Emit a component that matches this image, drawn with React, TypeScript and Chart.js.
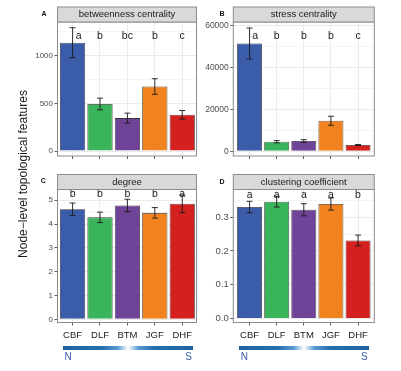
import React, { useEffect, useRef } from 'react';
import { Chart, registerables } from 'chart.js';

Chart.register(...registerables);

// ---------- data ----------
const categories = ['CBF', 'DLF', 'BTM', 'JGF', 'DHF'];
const barColors = ['#3B5CA8', '#3AB45A', '#6E4398', '#F0831F', '#D52020'];

const betweennessMean = [1135, 493, 345, 676, 380];
const betweennessErr = [157, 61, 52, 82, 45];
const betweennessLetters = ['a', 'b', 'bc', 'b', 'c'];
const betweennessLetterY = 1205;
const betweennessTicks = [0, 500, 1000];
const betweennessTickLabels = ['0', '500', '1000'];
const betweennessMinor = [250, 750, 1250];

const stressMean = [51500, 4600, 4900, 14600, 3000];
const stressErr = [7400, 550, 650, 2150, 250];
const stressLetters = ['a', 'b', 'b', 'b', 'c'];
const stressLetterY = 55090;
const stressTicks = [0, 20000, 40000, 60000];
const stressTickLabels = ['0', '20000', '40000', '60000'];
const stressMinor = [10000, 30000, 50000];

const degreeMean = [4.62, 4.28, 4.78, 4.47, 4.85];
const degreeErr = [0.26, 0.22, 0.26, 0.22, 0.37];
const degreeLetters = ['b', 'b', 'b', 'b', 'a'];
const degreeLetterY = 5.25;
const degreeTicks = [0, 1, 2, 3, 4, 5];
const degreeTickLabels = ['0', '1', '2', '3', '4', '5'];
const degreeMinor = [0.5, 1.5, 2.5, 3.5, 4.5];

const clusteringMean = [0.33, 0.346, 0.322, 0.339, 0.231];
const clusteringErr = [0.017, 0.016, 0.018, 0.018, 0.016];
const clusteringLetters = ['a', 'a', 'a', 'a', 'b'];
const clusteringLetterY = 0.364;
const clusteringTicks = [0, 0.1, 0.2, 0.3];
const clusteringTickLabels = ['0.0', '0.1', '0.2', '0.3'];
const clusteringMinor = [0.05, 0.15, 0.25, 0.35];

const yTitle = 'Node\u2212level topological features';

// ---------- layout / style ----------
const FONT = "'Liberation Sans', Arial, Helvetica, sans-serif";
const STRIP_H = 15;

interface PanelCfg {
  tag: string;
  title: string;
  means: number[];
  errs: number[];
  letters: string[];
  letterY: number;
  nudge: number[];
  ticks: number[];
  tickLabels: string[];
  minor: number[];
  yMin: number;
  yMax: number;
  xMin: number;
  xMax: number;
  showX: boolean;
  yFont: number;
  box: { left: number; top: number; width: number; height: number };
  area: { left: number; top: number; right: number; bottom: number };
}

const panels: PanelCfg[] = [
  {
    tag: 'A', title: 'betweenness centrality',
    means: betweennessMean, errs: betweennessErr, letters: betweennessLetters, letterY: betweennessLetterY,
    nudge: [0.22, 0, 0, 0, 0],
    ticks: betweennessTicks, tickLabels: betweennessTickLabels, minor: betweennessMinor,
    yMin: -52, yMax: 1352, xMin: -0.55, xMax: 4.52, showX: false, yFont: 8,
    box: { left: 0, top: 0, width: 200, height: 172 },
    area: { left: 57.5, top: 22, right: 196.5, bottom: 156 },
  },
  {
    tag: 'B', title: 'stress centrality',
    means: stressMean, errs: stressErr, letters: stressLetters, letterY: stressLetterY,
    nudge: [0.21, 0, 0, 0, 0],
    ticks: stressTicks, tickLabels: stressTickLabels, minor: stressMinor,
    yMin: -2245, yMax: 61775, xMin: -0.6, xMax: 4.6, showX: false, yFont: 8.5,
    box: { left: 200, top: 0, width: 201, height: 172 },
    area: { left: 233.3, top: 22, right: 374.3, bottom: 156 },
  },
  {
    tag: 'C', title: 'degree',
    means: degreeMean, errs: degreeErr, letters: degreeLetters, letterY: degreeLetterY,
    nudge: [0, 0, 0, 0, 0],
    ticks: degreeTicks, tickLabels: degreeTickLabels, minor: degreeMinor,
    yMin: -0.134, yMax: 5.45, xMin: -0.55, xMax: 4.52, showX: true, yFont: 8,
    box: { left: 0, top: 172, width: 200, height: 199 },
    area: { left: 57.5, top: 189.5, right: 196.5, bottom: 322.5 },
  },
  {
    tag: 'D', title: 'clustering coefficient',
    means: clusteringMean, errs: clusteringErr, letters: clusteringLetters, letterY: clusteringLetterY,
    nudge: [0, 0, 0, 0, 0],
    ticks: clusteringTicks, tickLabels: clusteringTickLabels, minor: clusteringMinor,
    yMin: -0.012, yMax: 0.382, xMin: -0.6, xMax: 4.6, showX: true, yFont: 9.5,
    box: { left: 200, top: 172, width: 201, height: 199 },
    area: { left: 233.3, top: 189.5, right: 374.3, bottom: 322.5 },
  },
];

function facetPlugin(p: PanelCfg) {
  return {
    id: 'facet' + p.tag,
    afterDatasetsDraw(chart: any) {
      const { ctx } = chart;
      const x = chart.scales.x;
      const y = chart.scales.y;
      ctx.save();
      ctx.strokeStyle = '#1a1a1a';
      ctx.lineWidth = 0.9;
      p.means.forEach((m, i) => {
        const px = x.getPixelForValue(i);
        const yt = y.getPixelForValue(m + p.errs[i]);
        const yb = y.getPixelForValue(m - p.errs[i]);
        ctx.beginPath();
        ctx.moveTo(px, yt);
        ctx.lineTo(px, yb);
        ctx.moveTo(px - 3, yt);
        ctx.lineTo(px + 3, yt);
        ctx.moveTo(px - 3, yb);
        ctx.lineTo(px + 3, yb);
        ctx.stroke();
      });
      ctx.fillStyle = '#1a1a1a';
      ctx.font = `10.5px ${FONT}`;
      ctx.textAlign = 'center';
      ctx.textBaseline = 'middle';
      p.letters.forEach((l, i) => {
        ctx.fillText(l, x.getPixelForValue(i + p.nudge[i]), y.getPixelForValue(p.letterY));
      });
      ctx.restore();
    },
    afterDraw(chart: any) {
      const { ctx, chartArea: a } = chart;
      ctx.save();
      ctx.strokeStyle = '#8c8c8c';
      ctx.lineWidth = 1;
      ctx.strokeRect(a.left, a.top, a.right - a.left, a.bottom - a.top);
      ctx.fillStyle = '#D9D9D9';
      ctx.fillRect(a.left, a.top - STRIP_H, a.right - a.left, STRIP_H);
      ctx.strokeRect(a.left, a.top - STRIP_H, a.right - a.left, STRIP_H);
      ctx.fillStyle = '#1a1a1a';
      ctx.font = `9.5px ${FONT}`;
      ctx.textAlign = 'center';
      ctx.textBaseline = 'middle';
      ctx.fillText(p.title, (a.left + a.right) / 2, a.top - STRIP_H / 2);
      ctx.restore();
    },
  };
}

function buildConfig(p: PanelCfg): any {
  const pad = {
    left: 0,
    top: p.area.top - p.box.top,
    right: p.box.left + p.box.width - p.area.right,
    bottom: 0,
  };
  const yW = p.area.left - p.box.left;
  const xH = p.box.top + p.box.height - p.area.bottom;
  const yVals = [...p.ticks, ...p.minor].sort((a, b) => a - b);
  const isMajor = (v: any) => p.ticks.includes(v);
  return {
    type: 'bar',
    data: {
      datasets: [
        {
          data: categories.map((c, i) => ({ x: i, y: p.means[i] })),
          backgroundColor: barColors,
          borderColor: '#333333',
          borderWidth: 0.8,
          barPercentage: 0.92,
          categoryPercentage: 1,
        },
      ],
    },
    options: {
      responsive: false,
      animation: false,
      devicePixelRatio: 1,
      layout: { padding: pad },
      plugins: { legend: { display: false }, tooltip: { enabled: false } },
      scales: {
        x: {
          type: 'linear',
          min: p.xMin,
          max: p.xMax,
          bounds: 'data',
          offset: false,
          afterBuildTicks: (s: any) => {
            s.ticks = categories.map((c, i) => ({ value: i }));
          },
          afterFit: (s: any) => {
            s.height = xH;
          },
          ticks: {
            display: p.showX,
            autoSkip: false,
            maxRotation: 0,
            callback: (v: any) => categories[v] ?? '',
            font: { family: FONT, size: 9.5 },
            color: '#1a1a1a',
            padding: 4,
          },
          grid: {
            color: '#EBEBEB',
            lineWidth: 1,
            offset: false,
            drawTicks: true,
            tickLength: 3,
            tickColor: '#333333',
            tickWidth: 0.8,
          },
          border: { display: false },
        },
        y: {
          type: 'linear',
          min: p.yMin,
          max: p.yMax,
          bounds: 'data',
          afterBuildTicks: (s: any) => {
            s.ticks = yVals.map((v) => ({ value: v }));
          },
          afterFit: (s: any) => {
            s.width = yW;
          },
          ticks: {
            autoSkip: false,
            callback: (v: any) => {
              const k = p.ticks.indexOf(v);
              return k >= 0 ? p.tickLabels[k] : '';
            },
            font: { family: FONT, size: p.yFont },
            color: '#4d4d4d',
            padding: 1.5,
          },
          grid: {
            color: '#EBEBEB',
            lineWidth: (ctx: any) => (isMajor(ctx.tick?.value) ? 1 : 0.5),
            tickLength: 3,
            tickColor: (ctx: any) => (isMajor(ctx.tick?.value) ? '#333333' : 'rgba(0,0,0,0)'),
            tickWidth: 0.8,
          },
          border: { display: false },
        },
      },
    },
    plugins: [facetPlugin(p)],
  };
}

function Panel({ cfg }: { cfg: PanelCfg }) {
  const ref = useRef<HTMLCanvasElement>(null);
  useEffect(() => {
    const chart = new Chart(ref.current as HTMLCanvasElement, buildConfig(cfg));
    return () => chart.destroy();
  }, [cfg]);
  return (
    <canvas
      ref={ref}
      width={cfg.box.width}
      height={cfg.box.height}
      style={{
        position: 'absolute',
        left: cfg.box.left,
        top: cfg.box.top,
        width: cfg.box.width,
        height: cfg.box.height,
      }}
    />
  );
}

const gradient =
  'linear-gradient(to right, #1f62a0 0%, #2670ae 30%, #5a9bd0 42%, #ffffff 50%, #5a9bd0 58%, #2670ae 70%, #1f62a0 100%)';

const centered = (left: number, top: number): React.CSSProperties => ({
  position: 'absolute',
  left,
  top,
  transform: 'translate(-50%, -50%)',
  lineHeight: 1,
  whiteSpace: 'nowrap',
});

export default function App() {
  return (
    <div
      style={{
        position: 'absolute',
        left: 0,
        top: 0,
        width: 401,
        height: 371,
        background: '#ffffff',
        overflow: 'hidden',
        fontFamily: FONT,
      }}
    >
      {panels.map((p) => (
        <Panel key={p.tag} cfg={p} />
      ))}
      <div
        style={{
          ...centered(23.3, 173.5),
          transform: 'translate(-50%, -50%) rotate(-90deg)',
          fontSize: 12,
          color: '#1a1a1a',
        }}
      >
        {yTitle}
      </div>
      <div style={{ ...centered(44, 12.7), fontSize: 7, fontWeight: 'bold', color: '#111' }}>A</div>
      <div style={{ ...centered(222, 12.7), fontSize: 7, fontWeight: 'bold', color: '#111' }}>B</div>
      <div style={{ ...centered(43.3, 179.5), fontSize: 7, fontWeight: 'bold', color: '#111' }}>C</div>
      <div style={{ ...centered(222, 181), fontSize: 7, fontWeight: 'bold', color: '#111' }}>D</div>

      <div style={{ position: 'absolute', left: 63, top: 345.5, width: 130, height: 4, background: gradient }} />
      <div style={{ position: 'absolute', left: 239.3, top: 345.5, width: 130, height: 4, background: gradient }} />
      <div style={{ ...centered(68, 357), fontSize: 10, color: '#3a5da8' }}>N</div>
      <div style={{ ...centered(188.7, 357), fontSize: 10, color: '#3a5da8' }}>S</div>
      <div style={{ ...centered(244.3, 357), fontSize: 10, color: '#3a5da8' }}>N</div>
      <div style={{ ...centered(364.3, 357), fontSize: 10, color: '#3a5da8' }}>S</div>
    </div>
  );
}
